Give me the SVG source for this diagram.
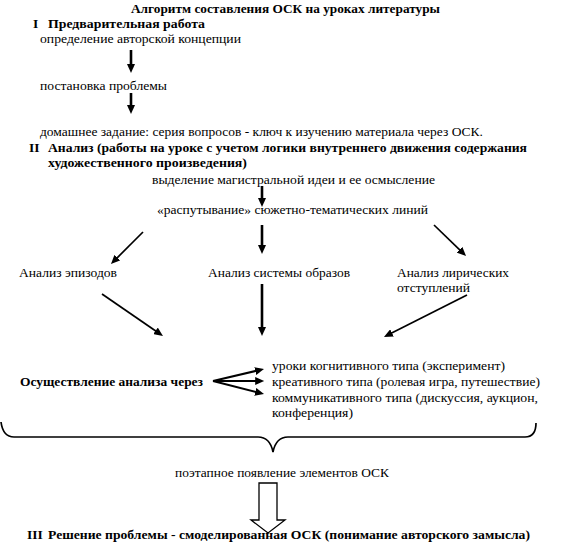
<svg xmlns="http://www.w3.org/2000/svg" width="564" height="545" viewBox="0 0 564 545" font-family="'Liberation Serif', 'DejaVu Serif', serif">
<style>
text{font-family:'Liberation Serif','DejaVu Serif',serif;font-size:13.5px;fill:#000}
.b{font-weight:bold}
.thick{stroke:#000;stroke-width:2.6;fill:none}
.thin{stroke:#000;stroke-width:1.7;fill:none}
.fan{stroke:#000;stroke-width:2;fill:none}
</style>
<defs>
<marker id="ah" markerUnits="userSpaceOnUse" markerWidth="10" markerHeight="8" refX="2" refY="4" orient="auto">
<path d="M0,0 L9,4 L0,8 z" fill="#000"/>
</marker>
</defs>
<rect width="564" height="545" fill="#fff"/>
<g id="title"><text class="b" x="131" y="13" textLength="309" lengthAdjust="spacingAndGlyphs">Алгоритм составления ОСК на уроках литературы</text></g>
<g id="stage1"><text class="b" x="33" y="28">I</text><text class="b" x="48" y="28" textLength="157" lengthAdjust="spacingAndGlyphs">Предварительная работа</text></g>
<g id="concept"><text x="40" y="43" textLength="201" lengthAdjust="spacingAndGlyphs">определение авторской концепции</text></g>
<g id="problem"><text x="40" y="90" textLength="127" lengthAdjust="spacingAndGlyphs">постановка проблемы</text></g>
<g id="homework"><text x="40" y="136" textLength="443" lengthAdjust="spacingAndGlyphs">домашнее задание: серия вопросов - ключ к изучению материала через ОСК.</text></g>
<g id="stage2"><text class="b" x="29" y="152">II</text><text class="b" x="48" y="152" textLength="479" lengthAdjust="spacingAndGlyphs">Анализ (работы на уроке с учетом логики внутреннего движения содержания</text><text class="b" x="48" y="167" textLength="199" lengthAdjust="spacingAndGlyphs">художественного произведения)</text></g>
<g id="mainidea"><text x="152" y="184" textLength="283" lengthAdjust="spacingAndGlyphs">выделение магистральной идеи и ее осмысление</text></g>
<g id="unravel"><text x="157" y="214" textLength="271" lengthAdjust="spacingAndGlyphs">«распутывание» сюжетно-тематических линий</text></g>
<g id="episodes"><text x="19" y="277" textLength="98" lengthAdjust="spacingAndGlyphs">Анализ эпизодов</text></g>
<g id="images"><text x="208" y="277" textLength="142" lengthAdjust="spacingAndGlyphs">Анализ системы образов</text></g>
<g id="lyrical"><text x="397" y="277" textLength="112" lengthAdjust="spacingAndGlyphs">Анализ лирических</text><text x="397" y="292" textLength="73" lengthAdjust="spacingAndGlyphs">отступлений</text></g>
<g id="through"><text class="b" x="20" y="386" textLength="183" lengthAdjust="spacingAndGlyphs">Осуществление анализа через</text></g>
<g id="lessons"><text x="272" y="370" textLength="233" lengthAdjust="spacingAndGlyphs">уроки когнитивного типа (эксперимент)</text><text x="272" y="386" textLength="268" lengthAdjust="spacingAndGlyphs">креативного типа (ролевая игра, путешествие)</text><text x="272" y="402" textLength="266" lengthAdjust="spacingAndGlyphs">коммуникативного типа (дискуссия, аукцион,</text><text x="272" y="417" textLength="81" lengthAdjust="spacingAndGlyphs">конференция)</text></g>
<g id="stepwise"><text x="175" y="477" textLength="214" lengthAdjust="spacingAndGlyphs">поэтапное появление элементов ОСК</text></g>
<g id="stage3"><text class="b" x="27" y="539">III</text><text class="b" x="48" y="539" textLength="482" lengthAdjust="spacingAndGlyphs">Решение проблемы - смоделированная ОСК (понимание авторского замысла)</text></g>
<g id="connectors">
<line class="thick" x1="131" y1="50" x2="131" y2="66" marker-end="url(#ah)"/>
<line class="thick" x1="131" y1="93" x2="131" y2="107" marker-end="url(#ah)"/>
<line class="thick" x1="262" y1="186" x2="262" y2="200" marker-end="url(#ah)"/>
<line class="thick" x1="262" y1="225" x2="262" y2="247" marker-end="url(#ah)"/>
<line class="thick" x1="262" y1="284" x2="262" y2="329" marker-end="url(#ah)"/>
<line class="thin" x1="143" y1="232" x2="115.9" y2="259.1" marker-end="url(#ah)"/>
<line class="thin" x1="434" y1="225" x2="461" y2="251.1" marker-end="url(#ah)"/>
<line class="thin" x1="102" y1="294" x2="157.2" y2="332" marker-end="url(#ah)"/>
<line class="thin" x1="467" y1="295" x2="390.2" y2="333.8" marker-end="url(#ah)"/>
<line class="fan" x1="213" y1="381" x2="257.2" y2="370.6" marker-end="url(#ah)"/>
<line class="fan" x1="213" y1="381" x2="257.2" y2="381" marker-end="url(#ah)"/>
<line class="fan" x1="213" y1="381" x2="257.2" y2="392.3" marker-end="url(#ah)"/>
<path class="thin" stroke-width="1.4" d="M1,422 Q3,437 14,437 L258,437 Q270,437 273,452 Q276,437 288,437 L525,437 Q536,437 536,423"/>
<path d="M259,483 L277,483 L277,520 L285,520 L268,533 L251,520 L259,520 Z" fill="#fff" stroke="#000" stroke-width="1.3"/>
</g>
</svg>
